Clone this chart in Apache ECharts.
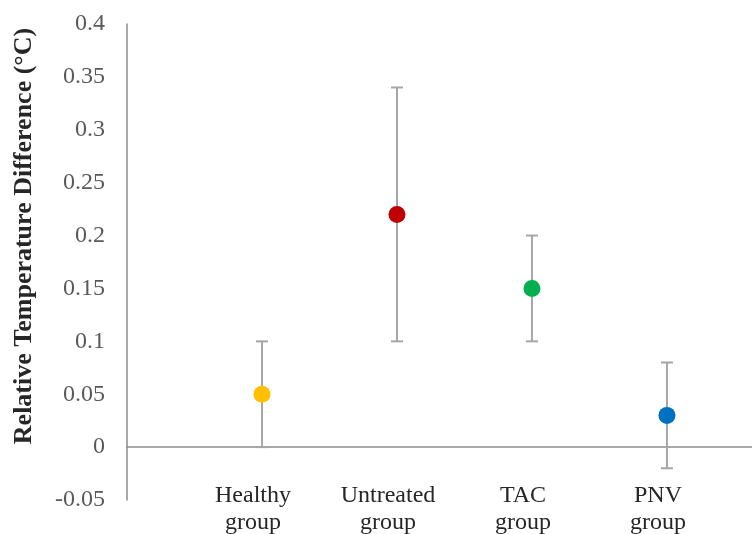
<!DOCTYPE html>
<html>
<head>
<meta charset="utf-8">
<script src="https://cdn.jsdelivr.net/npm/echarts@6/dist/echarts.min.js"></script>
<style>
html,body{margin:0;padding:0;background:#fff;}
#chart{width:752px;height:534px;}
</style>
</head>
<body>
<div id="chart"></div>
<script>
var categories = ['Healthy\ngroup', 'Untreated\ngroup', 'TAC\ngroup', 'PNV\ngroup'];
var means = [0.05, 0.22, 0.15, 0.03];
var lows = [0.0, 0.10, 0.10, -0.02];
var highs = [0.10, 0.34, 0.20, 0.08];
var colors = ['#FFC000', '#C00000', '#00B050', '#0070C0'];
var yTickMin = -0.05, yTickMax = 0.4, yTickStep = 0.05;
var yTitle = 'Relative Temperature Difference (°C)';

var chart = echarts.init(document.getElementById('chart'), null, {renderer: 'canvas'});

var pointData = means.map(function (v, i) {
  return {value: [i, v], itemStyle: {color: colors[i], opacity: 1}};
});
var errData = means.map(function (v, i) { return [i, lows[i], highs[i]]; });

var option = {
  animation: false,
  backgroundColor: '#ffffff',
  grid: {left: 127, right: 0, top: 24, bottom: 34, containLabel: false, outerBoundsMode: 'none'},
  xAxis: {
    type: 'value',
    min: -1,
    max: 3.63,
    interval: 1,
    splitLine: {show: false},
    axisTick: {show: false},
    axisLine: {show: true, onZero: true, lineStyle: {color: '#8c8c8c', width: 1.5}},
    axisLabel: {
      showMinLabel: false,
      showMaxLabel: false,
      hideOverlap: false,
      margin: -18,
      lineHeight: 27,
      padding: [0, 18, 0, 0],
      fontFamily: 'Liberation Serif',
      fontSize: 24,
      color: '#262626',
      formatter: function (v) {
        var i = Math.round(v);
        if (Math.abs(v - i) > 1e-6 || i < 0 || i >= categories.length) return '';
        return categories[i];
      }
    }
  },
  yAxis: {
    type: 'value',
    min: yTickMin,
    max: yTickMax,
    interval: yTickStep,
    splitLine: {show: false},
    axisTick: {show: false},
    axisLine: {show: true, onZero: false, lineStyle: {color: '#8c8c8c', width: 1.5}},
    axisLabel: {
      margin: 22,
      fontFamily: 'Liberation Serif',
      fontSize: 24,
      color: '#595959',
      formatter: function (v) { return String(Math.round(v * 100) / 100); }
    }
  },
  graphic: [{
    type: 'text',
    x: 24,
    y: 236,
    rotation: Math.PI / 2,
    style: {
      text: yTitle,
      fontFamily: 'Liberation Serif',
      fontWeight: 'bold',
      fontSize: 26,
      fill: '#262626',
      textAlign: 'center',
      textVerticalAlign: 'middle'
    }
  }],
  series: [
    {
      type: 'custom',
      data: errData,
      z: 2,
      renderItem: function (params, api) {
        var x = api.value(0);
        var lo = api.coord([x, api.value(1)]);
        var hi = api.coord([x, api.value(2)]);
        var cap = 6;
        var style = {stroke: '#a6a6a6', lineWidth: 2};
        return {
          type: 'group',
          children: [
            {type: 'line', shape: {x1: lo[0], y1: lo[1], x2: hi[0], y2: hi[1]}, style: style},
            {type: 'line', shape: {x1: lo[0] - cap, y1: lo[1], x2: lo[0] + cap, y2: lo[1]}, style: style},
            {type: 'line', shape: {x1: hi[0] - cap, y1: hi[1], x2: hi[0] + cap, y2: hi[1]}, style: style}
          ]
        };
      }
    },
    {
      type: 'scatter',
      data: pointData,
      symbol: 'circle',
      symbolSize: 17,
      z: 3
    }
  ]
};
chart.setOption(option);
</script>
</body>
</html>
